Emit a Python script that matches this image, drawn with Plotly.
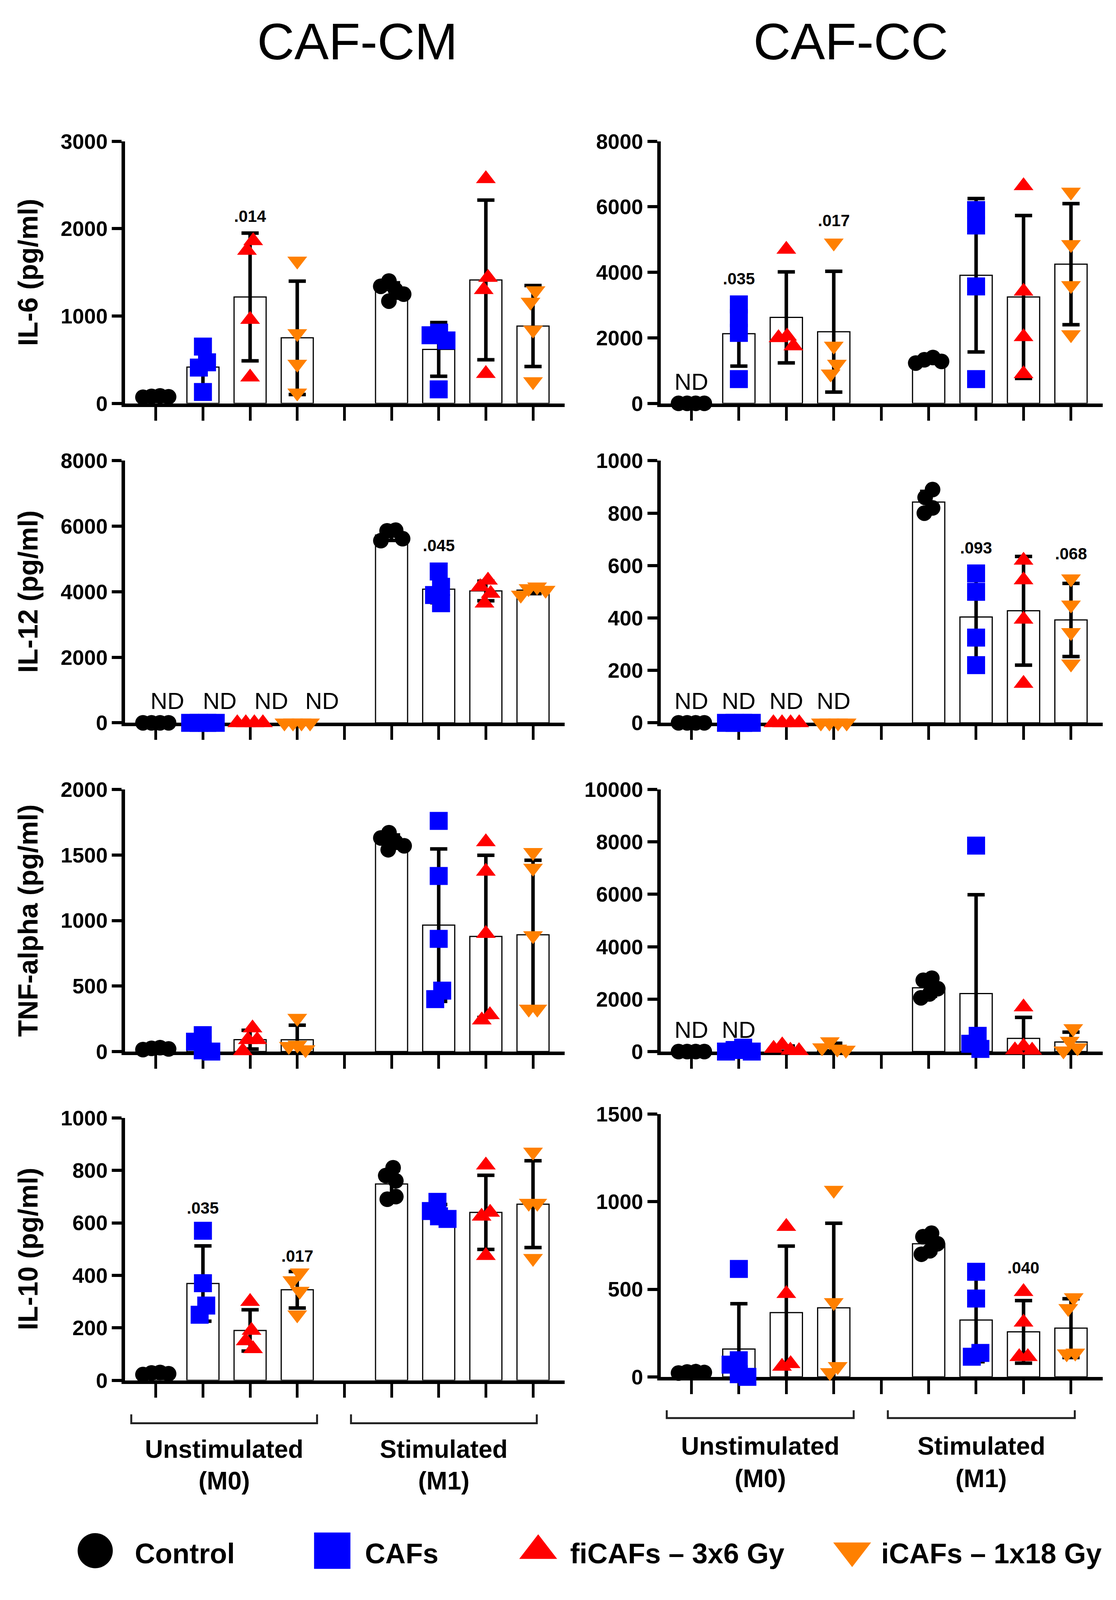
import numpy as np
import plotly.graph_objects as go

# design canvas of the reference; all positions below are fractions of it
W, H = 2856, 4544
FONT = 'Arial, "Liberation Sans", sans-serif'

group_names = ['Control', 'CAFs', 'fiCAFs – 3x6 Gy', 'iCAFs – 1x18 Gy']
condition_names = ['Unstimulated', 'Stimulated']
condition_codes = ['(M0)', '(M1)']
column_titles = ['CAF-CM', 'CAF-CC']
cytokine_titles = ['IL-6 (pg/ml)', 'IL-12 (pg/ml)', 'TNF-alpha (pg/ml)', 'IL-10 (pg/ml)']
# x slot of each group: unstimulated 0-3, empty slot 4, stimulated 5-8
group_slots = [0, 1, 2, 3, 5, 6, 7, 8]

# values (pg/ml), groups in order:
# Control M0, CAFs M0, fiCAFs M0, iCAFs M0, Control M1, CAFs M1, fiCAFs M1, iCAFs M1
il6_cm = [[70, 80, 75, 85], [650, 470, 410, 130], [1860, 1750, 960, 300], [1630, 800, 450, 120],
          [1170, 1250, 1300, 1340, 1400], [810, 780, 720, 160], [2570, 1440, 1300, 340], [1160, 1290, 840, 250]]
il6_cc = [[0, 0, 0, 0], [3020, 2600, 2150, 740], [4700, 2050, 2000, 1750], [4900, 1750, 1200, 900],
          [1230, 1280, 1330, 1400], [5900, 5430, 3570, 740], [6640, 3420, 2030, 900], [6450, 4850, 3600, 2100]]
il12_cm = [[0, 0, 0, 0], [0, 0, 0, 0], [0, 0, 0, 0], [0, 0, 0, 0],
           [5880, 5860, 5620, 5560], [4620, 4150, 3900, 3650], [4350, 4150, 3950, 3650], [4150, 4100, 4050, 3900]]
il12_cc = [[0, 0, 0, 0], [0, 0, 0, 0], [0, 0, 0, 0], [0, 0, 0, 0],
           [890, 860, 820, 800], [570, 500, 325, 220], [620, 545, 395, 150], [550, 450, 345, 225]]
tnf_cm = [[15, 25, 30, 20], [125, 75, 10, 0], [180, 90, 90, 5], [255, 50, 40, 15],
          [1670, 1630, 1600, 1570, 1540], [1760, 1340, 860, 400, 465], [1600, 1375, 900, 240, 280],
          [1520, 1400, 885, 325, 325]]
tnf_cc = [[0, 0, 0, 0], [0, 0, 60, 150], [250, 120, 50, 30], [380, 150, 100, 60],
          [2720, 2800, 2200, 2400, 2050], [7860, 600, 300, 100], [1700, 200, 60, 50], [880, 400, 150, 30]]
il10_cm = [[25, 28, 22, 30], [570, 370, 285, 250], [300, 190, 150, 120], [410, 380, 340, 250],
           [810, 780, 760, 700, 690], [680, 645, 625, 615], [820, 640, 625, 475], [870, 675, 675, 465]]
il10_cc = [[22, 28, 25, 30], [616, 95, 70, 15, 0], [858, 475, 60, 75], [1066, 425, 25, 60],
           [820, 800, 760, 720, 700], [600, 447, 115, 137], [486, 312, 115, 115], [453, 391, 132, 137]]

# groups marked "not detected" (index into group list)
il6_cc_nd = [0]
il12_cm_nd = [0, 1, 2, 3]
il12_cc_nd = [0, 1, 2, 3]
tnf_cc_nd = [0, 1]

# p-values: (group index, height of label, text)
il6_cm_p = [(2, 2140, '.014')]
il6_cc_p = [(1, 3810, '.035'), (3, 5585, '.017')]
il12_cm_p = [(5, 5415, '.045')]
il12_cc_p = [(5, 667, '.093'), (7, 645, '.068')]
il10_cm_p = [(1, 657, '.035'), (3, 473, '.017')]
il10_cc_p = [(6, 622, '.040')]

# panel: data, nd, pvals, y max, y step
panels = [
    (il6_cm, [], il6_cm_p, 3000, 1000), (il6_cc, il6_cc_nd, il6_cc_p, 8000, 2000),
    (il12_cm, il12_cm_nd, il12_cm_p, 8000, 2000), (il12_cc, il12_cc_nd, il12_cc_p, 1000, 200),
    (tnf_cm, [], [], 2000, 500), (tnf_cc, tnf_cc_nd, [], 10000, 2000),
    (il10_cm, [], il10_cm_p, 1000, 200), (il10_cc, [], il10_cc_p, 1500, 500),
]

colors = ['#000000', '#0000FF', '#FF0000', '#FF8000']
symbols = ['circle', 'square', 'triangle-up', 'triangle-down']
sizes = [40, 46, 44, 44]

# pixel layout of the panels on the design canvas
col_px = [(314, 1445), (1692, 2830)]
row_px = [[(368, 1131), (368, 1131)], [(1298, 2061), (1298, 2061)],
          [(2255, 3018), (2255, 3018)], [(3211, 3975), (3200, 3965)]]
slot_px = 121.5
x_range = [-0.65, 8.67]
nd_shift_px = {2: [30, 43, 54, 64]}


def swarm(values, px_per_unit, dmin=40, squeeze=0.55, step=1):
    # beeswarm: points too close in height are pushed sideways, clusters centred
    placed = []
    offsets = [0.0] * len(values)
    order = np.argsort(-np.asarray(values, dtype=float), kind='stable')
    for i in order:
        y = values[i] * px_per_unit
        k = 0
        while True:
            cands = [0] if k == 0 else [-k * step, k * step]
            ok = [c for c in cands
                  if all(((c - px) / squeeze) ** 2 + (y - py) ** 2 >= dmin ** 2 for px, py in placed)]
            if ok:
                break
            k += 1
        placed.append((ok[0], y))
        offsets[i] = ok[0]
    # centre each chain of overlapping points
    ys = [values[i] * px_per_unit for i in order]
    start = 0
    for j in range(1, len(order) + 1):
        if j == len(order) or ys[j - 1] - ys[j] >= dmin:
            members = order[start:j]
            shift = np.mean([offsets[m] for m in members])
            for m in members:
                offsets[m] -= shift
            start = j
    return [o / slot_px for o in offsets]


fig = go.Figure()
annotations = []
shapes = []
layout = {}

for p, (data, nd, pvals, ymax, ystep) in enumerate(panels):
    row, col = divmod(p, 2)
    n = p + 1
    sfx = '' if n == 1 else str(n)
    xr, yr = f'x{sfx}', f'y{sfx}'
    x0, x1 = col_px[col]
    ytop, ybot = row_px[row][col]
    px_per_unit = (ybot - ytop) / ymax

    layout[f'xaxis{sfx}'] = dict(
        domain=[x0 / W, x1 / W], range=x_range, anchor=yr, showline=True, linewidth=9, linecolor='black',
        ticks='outside', tickvals=list(range(9)), ticklen=35, tickwidth=7, tickcolor='black',
        showticklabels=False, showgrid=False, zeroline=False, layer='below traces')
    layout[f'yaxis{sfx}'] = dict(
        domain=[1 - ybot / H, 1 - ytop / H], range=[0, ymax], anchor=xr, showline=True, linewidth=9,
        linecolor='black', ticks='outside', tickvals=list(range(0, ymax + 1, ystep)), tickformat='d',
        ticklen=25, tickwidth=8, tickcolor='black', showgrid=False, zeroline=False, layer='below traces',
        tickfont=dict(family=FONT, size=54, color='black', weight='bold'))

    # bars with mean +/- SD
    bx, by, be = [], [], []
    for g, vals in enumerate(data):
        if g in nd:
            continue
        bx.append(group_slots[g])
        by.append(np.mean(vals))
        be.append(np.std(vals, ddof=1))
    fig.add_bar(x=bx, y=by, width=0.68, xaxis=xr, yaxis=yr, showlegend=False,
                marker=dict(color='white', line=dict(color='black', width=3)),
                error_y=dict(type='data', array=be, visible=True, color='black', thickness=9, width=22))

    # individual points
    for g, vals in enumerate(data):
        k = g % 4
        offs = swarm(vals, px_per_unit)
        fig.add_scatter(x=[group_slots[g] + o for o in offs], y=vals, mode='markers', xaxis=xr, yaxis=yr,
                        showlegend=False, cliponaxis=False,
                        marker=dict(symbol=symbols[k], color=colors[k], size=sizes[k], line=dict(width=0)))

    for j, g in enumerate(nd):
        shift = nd_shift_px.get(p, [0] * 4)[j]
        annotations.append(dict(x=group_slots[g], y=0, xref=xr, yref=yr, text='ND', showarrow=False,
                                xanchor='center', yanchor='bottom', xshift=shift, yshift=20,
                                font=dict(family=FONT, size=60, color='black')))
    for g, yv, txt in pvals:
        annotations.append(dict(x=group_slots[g], y=yv, xref=xr, yref=yr, text=txt, showarrow=False,
                                xanchor='center', yanchor='middle',
                                font=dict(family=FONT, size=42, color='black', weight='bold')))

    if col == 0:
        annotations.append(dict(x=64 / W, y=1 - (ytop + ybot) / 2 / H, xref='paper', yref='paper',
                                text=cytokine_titles[row], textangle=-90, showarrow=False,
                                xanchor='center', yanchor='middle',
                                font=dict(family=FONT, size=70, color='black', weight='bold')))

    if row == 3:
        # condition brackets under the last row
        btop, bbot = (4074, 4100) if col == 0 else (4062, 4085)
        tline1, tline2 = (4175, 4268) if col == 0 else (4166, 4261)
        for c, (a, b) in enumerate([(-0.52, 3.42), (4.14, 8.08)]):
            shapes.append(dict(type='path', xref=xr, yref='paper', line=dict(color='#222222', width=5),
                               path=f'M {a},{1 - btop / H} L {a},{1 - bbot / H} L {b},{1 - bbot / H} L {b},{1 - btop / H}'))
            mid = (a + b) / 2
            for txt, ty in [(condition_names[c], tline1), (condition_codes[c], tline2)]:
                annotations.append(dict(x=mid, y=1 - ty / H, xref=xr, yref='paper', text=txt, showarrow=False,
                                        xanchor='center', yanchor='middle',
                                        font=dict(family=FONT, size=64, color='black', weight='bold')))

# column titles
for c, title in enumerate(column_titles):
    annotations.append(dict(x=[912, 2182][c] / W, y=1 - 78 / H, xref='paper', yref='paper', text=title,
                            showarrow=False, xanchor='center', yanchor='middle',
                            font=dict(family=FONT, size=132, color='black')))

# legend drawn by hand on a hidden axis (plotly legend caps marker size)
legend_marker_px = [237, 847, 1377, 2185]
legend_text_px = [337, 929, 1457, 2258]
legend_sizes = [90, 93, 84, 84]
for k in range(4):
    fig.add_scatter(x=[legend_marker_px[k]], y=[0.5], mode='markers', xaxis='x9', yaxis='y9', showlegend=False,
                    cliponaxis=False,
                    marker=dict(symbol=symbols[k], color=colors[k], size=legend_sizes[k], line=dict(width=0)))
    annotations.append(dict(x=legend_text_px[k] / W, y=1 - 4479 / H, xref='paper', yref='paper',
                            text=group_names[k], showarrow=False, xanchor='left', yanchor='middle',
                            font=dict(family=FONT, size=72, color='black', weight='bold')))
layout['xaxis9'] = dict(domain=[0, 1], range=[0, W], visible=False, anchor='y9')
layout['yaxis9'] = dict(domain=[1 - 4531 / H, 1 - 4411 / H], range=[0, 1], visible=False, anchor='x9')

fig.update_layout(
    autosize=True, margin=dict(l=0, r=0, t=0, b=0),
    paper_bgcolor='white', plot_bgcolor='white',
    annotations=annotations, shapes=shapes, **layout)

# size the figure to the browser window so the whole page stays in view
fig.write_html('out.html', default_width='100%', default_height='calc(100vh - 40px)')
